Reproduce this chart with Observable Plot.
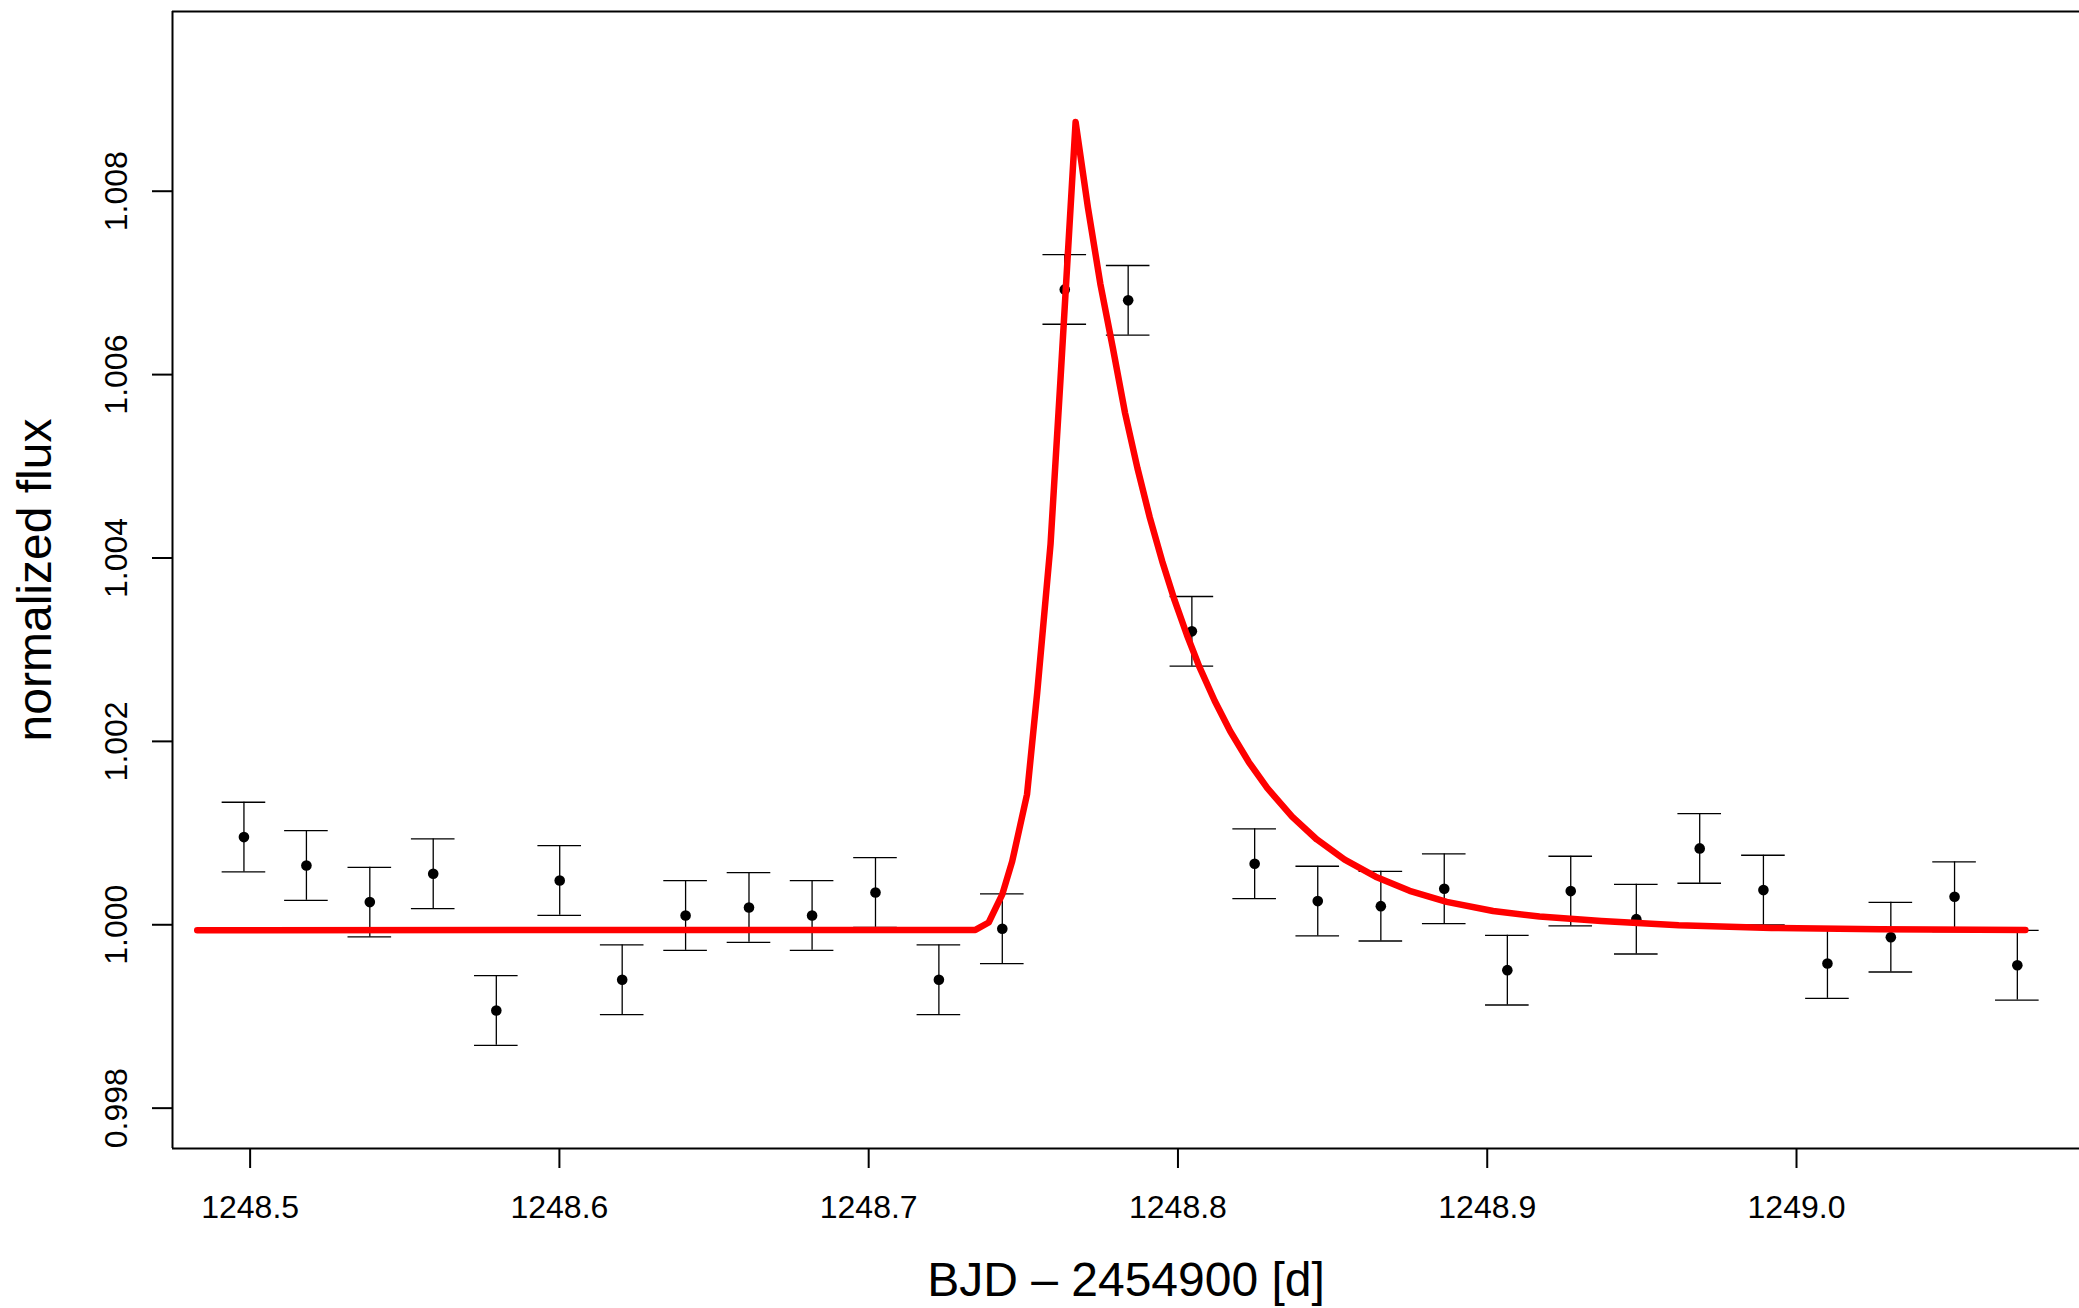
<!DOCTYPE html>
<html>
<head>
<meta charset="utf-8">
<script src="https://cdn.jsdelivr.net/npm/d3@7"></script>
<script src="https://cdn.jsdelivr.net/npm/@observablehq/plot@0.6"></script>
<style>
  html, body { margin: 0; padding: 0; background: #ffffff; }
  #chart { width: 2079px; height: 1308px; }
</style>
</head>
<body>
<div id="chart"></div>
<script>
// ---- observations (BJD - 2454900) ----
const obsTime = [
  1248.4980, 1248.5182, 1248.5387, 1248.5592, 1248.5796, 1248.6001, 1248.6203,
  1248.6408, 1248.6613, 1248.6817, 1248.7022, 1248.7227, 1248.7432, 1248.7634,
  1248.7839, 1248.8045, 1248.8248, 1248.8452, 1248.8656, 1248.8861, 1248.9065,
  1248.9270, 1248.9482, 1248.9687, 1248.9893, 1249.0100, 1249.0305, 1249.0511,
  1249.0714
];
const obsFlux = [
  1.000956, 1.000647, 1.000247, 1.000556, 0.999065, 1.000483, 0.999400,
  1.000101, 1.000189, 1.000101, 1.000352, 0.999400, 0.999956, 1.006929,
  1.006810, 1.003200, 1.000666, 1.000258, 1.000203, 1.000393, 0.999505,
  1.000367, 1.000061, 1.000833, 1.000378, 0.999578, 0.999865, 1.000306,
  0.999559
];
const obsErr = [
  0.00038, 0.00038, 0.00038, 0.00038, 0.00038, 0.00038, 0.00038,
  0.00038, 0.00038, 0.00038, 0.00038, 0.00038, 0.00038, 0.00038,
  0.00038, 0.00038, 0.00038, 0.00038, 0.00038, 0.00038, 0.00038,
  0.00038, 0.00038, 0.00038, 0.00038, 0.00038, 0.00038, 0.00038,
  0.00038
];

// ---- flare model curve ----
const modelTime = [
  1248.4829, 1248.7345, 1248.7388, 1248.7432, 1248.7464, 1248.7512, 1248.7545,
  1248.7588, 1248.7620, 1248.7669,
  1248.7709, 1248.7749, 1248.7789, 1248.7829, 1248.7869, 1248.7909, 1248.7949,
  1248.7989, 1248.8029, 1248.8069, 1248.8119, 1248.8169, 1248.8229, 1248.8289,
  1248.8369, 1248.8449, 1248.8539, 1248.8639, 1248.8749, 1248.8869, 1248.9019,
  1248.9169, 1248.9369, 1248.9619, 1248.9919, 1249.0269, 1249.0740
];
const modelFlux = [
  0.999940, 0.999944, 1.000025, 1.000331, 1.000691, 1.001422, 1.002535,
  1.004149, 1.005939, 1.008754,
  1.007820, 1.006990, 1.006300, 1.005580, 1.004980, 1.004440, 1.003965,
  1.003540, 1.003160, 1.002815, 1.002440, 1.002110, 1.001775, 1.001490,
  1.001180, 1.000930, 1.000710, 1.000525, 1.000370, 1.000250, 1.000150,
  1.000090, 1.000040, 0.999995, 0.999965, 0.999950, 0.999943
];

// ---- axes ----
const xTicks = [1248.5, 1248.6, 1248.7, 1248.8, 1248.9, 1249.0];
const yTicks = [0.998, 1.000, 1.002, 1.004, 1.006, 1.008];
const xDomain = [1248.4749, 1249.0915];
const yDomain = [0.99756, 1.00996];
const xTitle = "BJD \u2013 2454900 [d]";
const yTitle = "normalized flux";

const obs = obsTime.map((t, i) => ({t, f: obsFlux[i], e: obsErr[i]}));
const model = modelTime.map((t, i) => ({t, f: modelFlux[i]}));
const capHalf = 0.00705; // half-width of error-bar caps, in days

const chart = Plot.plot({
  width: 2079,
  height: 1308,
  marginLeft: 172,
  marginRight: 0,
  marginTop: 11,
  marginBottom: 160,
  x: {domain: xDomain},
  y: {domain: yDomain},
  style: {fontFamily: "'Liberation Sans', Arial, Helvetica, sans-serif", background: "#ffffff", color: "#000000", overflow: "visible"},
  marks: [
    // frame: left, top, bottom (right side runs off the picture)
    Plot.ruleX([xDomain[0]], {stroke: "#000", strokeWidth: 2}),
    Plot.ruleY([yDomain[1]], {stroke: "#000", strokeWidth: 2}),
    Plot.ruleY([yDomain[0]], {stroke: "#000", strokeWidth: 2}),
    Plot.axisX({ticks: xTicks, tickSize: 20, tickPadding: 27, tickFormat: d => d.toFixed(1), fontSize: 32, label: null, strokeWidth: 2}),
    Plot.axisY({ticks: yTicks, tickSize: 20, tickPadding: 26, tickRotate: -90, tickFormat: d => d.toFixed(3), fontSize: 32, label: null, strokeWidth: 2}),
    Plot.text([xTitle], {frameAnchor: "bottom", dy: 147, lineAnchor: "bottom", fontSize: 48, fill: "#000"}),
    Plot.text([yTitle], {frameAnchor: "left", dx: -122, rotate: -90, textAnchor: "middle", lineAnchor: "bottom", fontSize: 48, fill: "#000"}),
    // error bars
    Plot.ruleX(obs, {x: "t", y1: d => d.f - d.e, y2: d => d.f + d.e, stroke: "#000", strokeWidth: 1.3}),
    Plot.ruleY(obs, {y: d => d.f + d.e, x1: d => d.t - capHalf, x2: d => d.t + capHalf, stroke: "#000", strokeWidth: 1.3}),
    Plot.ruleY(obs, {y: d => d.f - d.e, x1: d => d.t - capHalf, x2: d => d.t + capHalf, stroke: "#000", strokeWidth: 1.3}),
    Plot.dot(obs, {x: "t", y: "f", r: 5.3, fill: "#000", stroke: "none"}),
    // model
    Plot.line(model, {x: "t", y: "f", stroke: "#ff0000", strokeWidth: 6.5, strokeLinejoin: "round", strokeLinecap: "round", curve: "linear"})
  ]
});
document.getElementById("chart").appendChild(chart);
</script>
</body>
</html>
